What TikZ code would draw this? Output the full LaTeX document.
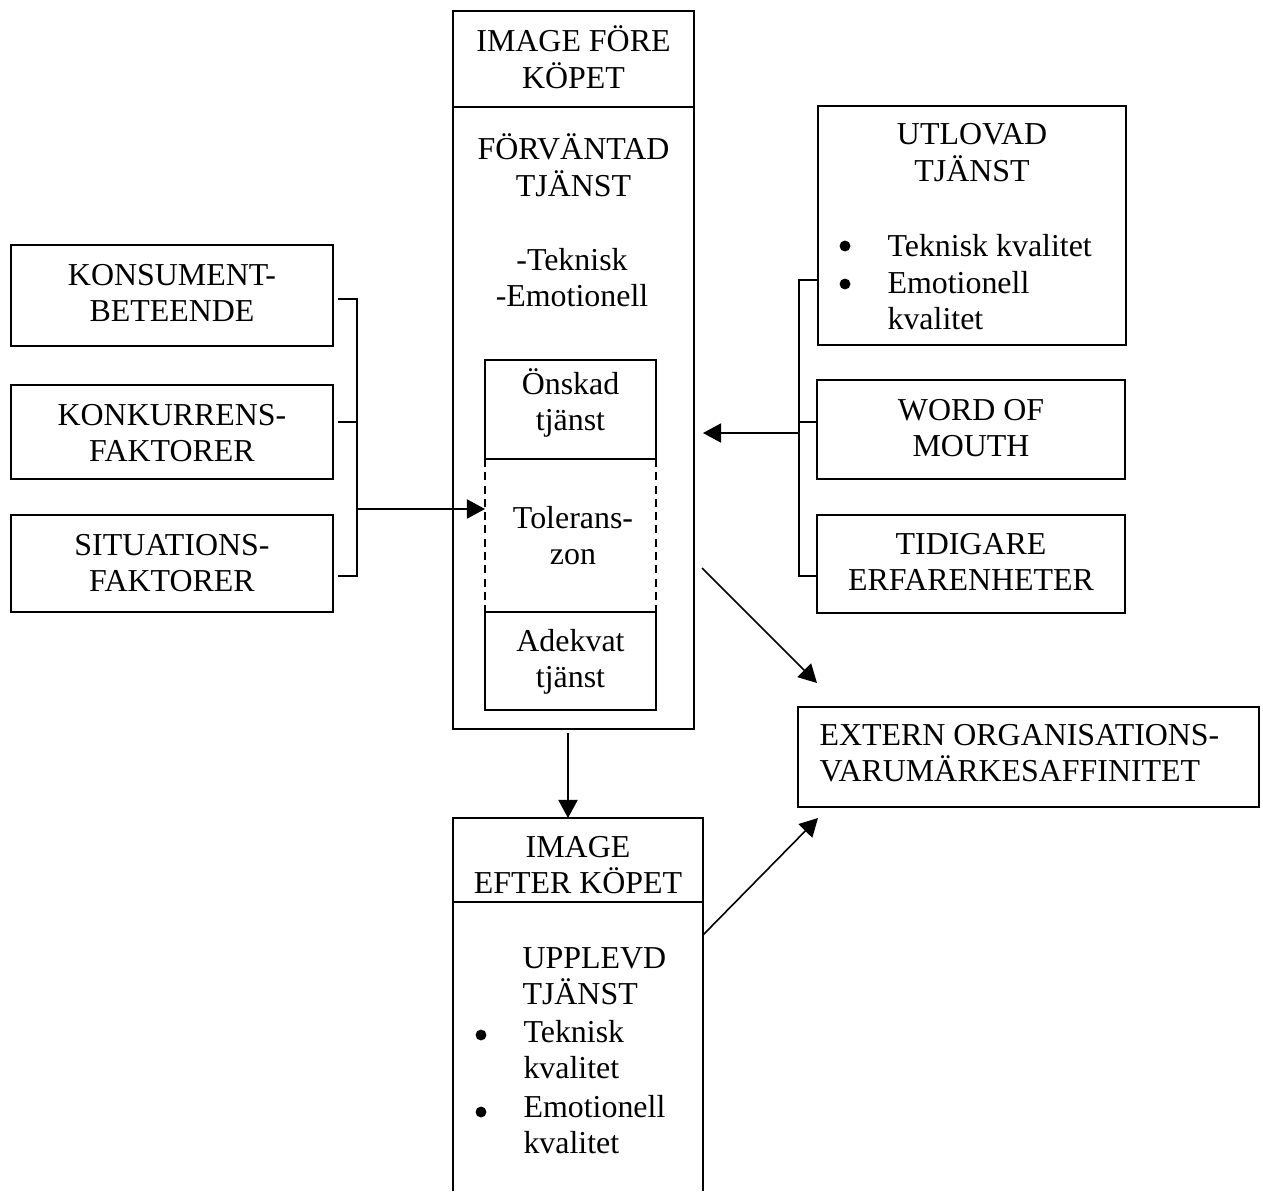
\documentclass[tikz,border=0pt]{standalone}
\usepackage{fontspec}
\setmainfont{Liberation Serif}
\usetikzlibrary{arrows.meta,fit}
% multi-line text blocks whose reference point is the first baseline
\newcommand{\ctext}[1]{\begin{tabular}[t]{@{}c@{}}#1\end{tabular}}
\newcommand{\ltext}[1]{\begin{tabular}[t]{@{}l@{}}#1\end{tabular}}

\begin{document}
\begin{tikzpicture}[x=0.376pt,y=-0.376pt,
  box/.style={draw, line width=0.75pt, inner sep=0pt, outer sep=0pt},
  area/.style={inner sep=0pt, outer sep=0pt},
  txt/.style={inner sep=0pt, anchor=base, font=\fontsize{12}{13.8}\selectfont},
  ltxt/.style={txt, anchor=base west},
  dot/.style={circle, fill, inner sep=0pt, minimum size=4.1pt},
  link/.style={line width=0.6pt},
  arrow/.style={link, -{Triangle[length=6.8pt,width=7.2pt]}},
  zone/.style={line width=0.6pt, dash pattern=on 3pt off 2pt}]

\useasboundingbox (0,0) rectangle (1263,1191);

% ---- influencing factors (left) ----
\node[box, fit={(11,245)(333,346)}] (kons) {};
\node[box, fit={(11,385)(333,479)}] (konk) {};
\node[box, fit={(11,515)(333,612)}] (sit) {};
\node[txt] (konsT) at (172,285) {\ctext{KONSUMENT-\\BETEENDE}};
\node[txt] (konkT) at (172,425) {\ctext{KONKURRENS-\\FAKTORER}};
\node[txt] (sitT)  at (172,555) {\ctext{SITUATIONS-\\FAKTORER}};

% ---- image before purchase ----
\node[box, fit={(453,11)(694,729)}] (pre) {};
\draw[box] (453,107) -- (694,107);
\node[txt] (preT) at (573.5,51.7) {\ctext{IMAGE FÖRE\\KÖPET}};
\node[txt] (expT) at (573.5,160) {\ctext{FÖRVÄNTAD\\TJÄNST}};
\node[txt] (dimT) at (572,270) {\ctext{-Teknisk\\-Emotionell}};

% expectation levels
\node[box, fit={(485,360)(656,459)}] (wish) {};
\node[box, fit={(485,612)(656,710)}] (adeq) {};
\node[area, fit={(485,459)(656,612)}] (tol) {};
\draw[zone] (tol.north west) -- (tol.south west);
\draw[zone] (tol.north east) -- (tol.south east);
\node[txt] (wishT) at (570.5,394) {\ctext{Önskad\\tjänst}};
\node[txt] (tolT)  at (573,528)   {\ctext{Tolerans-\\zon}};
\node[txt] (adeqT) at (570.5,651) {\ctext{Adekvat\\tjänst}};

% ---- sources of expectation (right) ----
\node[box, fit={(818,106)(1126,345)}] (prom) {};
\node[box, fit={(817,380)(1125,479)}] (wom) {};
\node[box, fit={(817,515)(1125,613)}] (prev) {};
\node[txt] (promT) at (972,145) {\ctext{UTLOVAD\\TJÄNST}};
\node[dot] (promB1) at (845,246) {};
\node[dot] (promB2) at (845,284) {};
\node[ltxt] (promI1) at (887,256) {Teknisk kvalitet};
\node[ltxt] (promI2) at (887,293) {\ltext{Emotionell\\kvalitet}};
\node[txt] (womT)  at (971,420) {\ctext{WORD OF\\MOUTH}};
\node[txt] (prevT) at (971,554) {\ctext{TIDIGARE\\ERFARENHETER}};

% ---- brand affinity ----
\node[box, fit={(798,707)(1259,807)}] (ext) {};
\node[ltxt] (extT) at (819,745) {\ltext{EXTERN ORGANISATIONS-\\VARUMÄRKESAFFINITET}};

% ---- image after purchase ----
\node[area, fit={(453,818)(703,1191)}] (post) {};
\draw[box] (post.south west) |- (post.north east) -- (post.south east);
\draw[box] (453,902) -- (703,902);
\node[txt] (postT) at (578,857) {\ctext{IMAGE\\EFTER KÖPET}};
\node[ltxt] (expdT) at (522,968) {\ltext{UPPLEVD\\TJÄNST}};
\node[dot] (postB1) at (481,1035) {};
\node[dot] (postB2) at (481,1112) {};
\node[ltxt] (postI1) at (523,1042) {\ltext{Teknisk\\kvalitet}};
\node[ltxt] (postI2) at (523,1117) {\ltext{Emotionell\\kvalitet}};

% ---- connectors ----
% left bracket into the tolerance zone
\coordinate (lb1) at (338,299);
\coordinate (lb2) at (338,422);
\coordinate (lb3) at (338,576);
\coordinate (lbx) at (357,509);
\draw[link] (lb1) -| (lbx) |- (lb3);
\draw[link] (lb2) -- (lb2 -| lbx);
\draw[arrow] (lbx) -- (lbx -| tol.west);

% right bracket into the expectation box
\coordinate (rs1) at (818,280);
\coordinate (rs2) at (817,422);
\coordinate (rs3) at (817,576);
\coordinate (rb) at (799,433);
\coordinate (rtip) at (703,433);
\draw[link] (rs1) -| (rb) |- (rs3);
\draw[link] (rs2) -- (rs2 -| rb);
\draw[arrow] (rb) -- (rtip);

% before -> after
\coordinate (dstart) at (568,733);
\draw[arrow] (dstart) -- (dstart |- post.north);

% both images -> brand affinity
\coordinate (d1) at (702,568);
\coordinate (d1e) at (817,683);
\draw[arrow] (d1) -- (d1e);
\coordinate (d2) at (703,935);
\coordinate (d2e) at (818,818);
\draw[arrow] (d2) -- (d2e);
\end{tikzpicture}
\end{document}
